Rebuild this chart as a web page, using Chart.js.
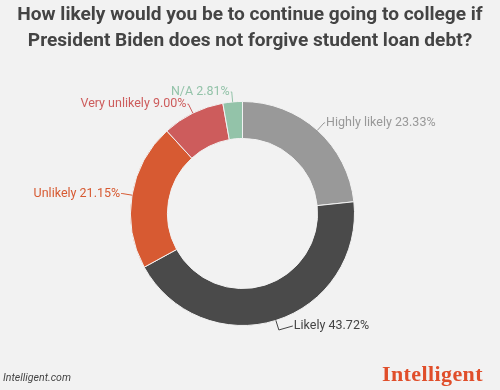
<!DOCTYPE html>
<html>
<head>
<meta charset="utf-8">
<script src="https://cdn.jsdelivr.net/npm/chart.js@4/dist/chart.umd.min.js"></script>
<style>
  html, body { margin: 0; padding: 0; background: #f2f2f2; }
  #wrap { position: relative; width: 500px; height: 390px; overflow: hidden; font-family: Roboto, sans-serif; }
  #title { position: absolute; left: 0; top: 1px; width: 500px; text-align: center; font-weight: bold; font-size: 19.1px; line-height: 26px; color: #444; }
  #chart { position: absolute; left: 0; top: 0; }
  #src { position: absolute; left: 3px; top: 371px; font-size: 10.6px; font-style: italic; color: #444; }
  #logo { position: absolute; left: 382px; top: 361px; font-family: "Liberation Serif", serif; font-weight: bold; font-size: 22px; color: #e04e2a; letter-spacing: 0.4px; }
</style>
</head>
<body>
<div id="wrap">
  <canvas id="chart" width="500" height="390"></canvas>
  <div id="title">How likely would you be to continue going to college if<br>President Biden does not forgive student loan debt?</div>
  <div id="src">Intelligent.com</div>
  <div id="logo">Intelligent</div>
</div>
<script>
const labels = ['Highly likely', 'Likely', 'Unlikely', 'Very unlikely', 'N/A'];
const values = [23.33, 43.72, 21.15, 9.00, 2.81];
const colors = ['#999999', '#4a4a4a', '#d75a32', '#cd5c5c', '#93c3a9'];
const labelColors = ['#999999', '#444444', '#d75a32', '#cd5c5c', '#93c3a9'];

// leader line out from the middle of each slice, then the label text
const outerLabels = {
  id: 'outerLabels',
  afterDatasetsDraw(chart) {
    const ctx = chart.ctx;
    const meta = chart.getDatasetMeta(0);
    ctx.save();
    ctx.font = '12.5px Roboto, sans-serif';
    ctx.textBaseline = 'middle';
    meta.data.forEach((arc, i) => {
      const { x, y, startAngle, endAngle, outerRadius } = arc.getProps(['x', 'y', 'startAngle', 'endAngle', 'outerRadius'], true);
      const mid = (startAngle + endAngle) / 2;
      const cos = Math.cos(mid);
      const sin = Math.sin(mid);
      const x0 = x + cos * outerRadius;
      const y0 = y + sin * outerRadius;
      const x1 = x + cos * (outerRadius + 10);
      const y1 = y + sin * (outerRadius + 10);
      const right = cos >= 0;
      // slices near the bottom get a longer elbow so the text clears the ring
      const elbow = sin > 0.8 ? 14 : 1;
      const x2 = x1 + (right ? elbow : -elbow);
      const y2 = sin > 0.8 ? y1 - 4 : y1;
      ctx.strokeStyle = labelColors[i];
      ctx.lineWidth = 1;
      ctx.beginPath();
      ctx.moveTo(x0, y0);
      ctx.lineTo(x1, y1);
      ctx.lineTo(x2, y2);
      ctx.stroke();
      ctx.fillStyle = labelColors[i];
      ctx.textAlign = right ? 'left' : 'right';
      ctx.fillText(`${labels[i]} ${values[i].toFixed(2)}%`, x2 + (right ? 1 : -1), y2);
    });
    ctx.restore();
  },
};

new Chart(document.getElementById('chart'), {
  type: 'doughnut',
  data: {
    labels,
    datasets: [{
      data: values,
      backgroundColor: colors,
      borderColor: '#f2f2f2',
      borderWidth: 1,
    }],
  },
  options: {
    responsive: false,
    animation: false,
    cutout: '67%',
    layout: { padding: { left: 130, right: 145, top: 101, bottom: 64 } },
    plugins: {
      legend: { display: false },
      tooltip: { enabled: false },
    },
  },
  plugins: [outerLabels],
});
</script>
</body>
</html>
